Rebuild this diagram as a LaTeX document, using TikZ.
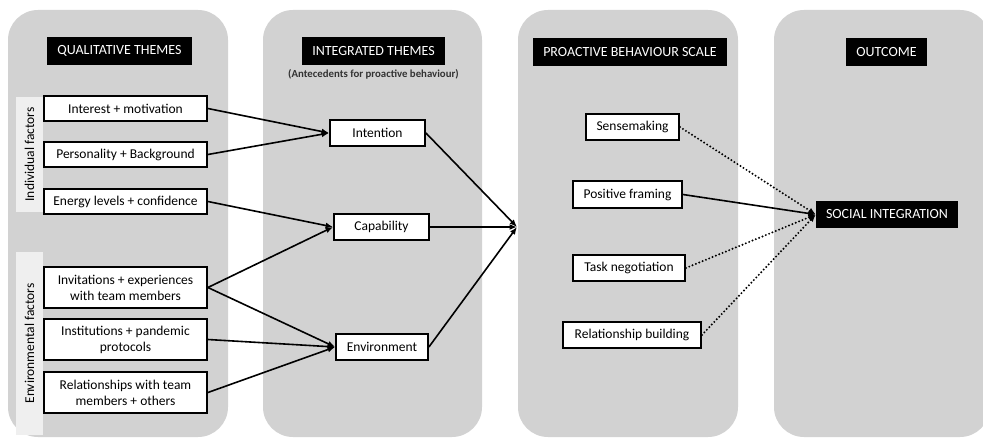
\documentclass[tikz,border=0pt]{standalone}
\usepackage{fontspec}
\setmainfont{Carlito}
\usetikzlibrary{arrows.meta}
\definecolor{panelgray}{HTML}{D2D2D2}
\definecolor{stripgray}{HTML}{EFEFEF}
\begin{document}
\begin{tikzpicture}[x=1pt,y=-1pt,
  panel/.style={fill=panelgray, rounded corners=30pt},
  header/.style={fill=black, text=white, font=\fontsize{14}{16}\selectfont, inner sep=0pt, minimum height=28},
  item/.style={draw=black, line width=1.8pt, fill=white, align=center, inner sep=0pt,
               font=\fontsize{13.5}{16}\selectfont},
  strip/.style={fill=stripgray},
  conn/.style={line width=1.6pt, -{Latex[length=7.5pt,width=6pt]}},
  dotconn/.style={line width=2.2pt, line cap=round, dash pattern=on 0pt off 3.6pt,
                  -{Latex[length=7.5pt,width=6pt,line cap=butt]}}]
\useasboundingbox (0,0) rectangle (983,441);
\fill[white] (0,0) rectangle (983,441);

% column panels
\fill[panel] (8,10) rectangle (228,437);
\fill[panel] (263,10) rectangle (482,437);
\fill[panel] (518,10) rectangle (738,437);
\fill[panel] (774,10) rectangle (990,437);

% column headers
\node[header, minimum width=145] (hq) at (119.5,51) {QUALITATIVE THEMES};
\node[header, minimum width=143] (hi) at (373.5,51) {INTEGRATED THEMES};
\node[font=\fontsize{10.8}{12}\selectfont\bfseries, text=black!80] (ant) at (373.5,74) {(Antecedents for proactive behaviour)};
\node[header, minimum width=194] (hp) at (630,52) {PROACTIVE BEHAVIOUR SCALE};
\node[header, minimum width=81] (ho) at (886.5,52) {OUTCOME};

% factor strips with rotated labels
\fill[strip] (16,97) rectangle (43,212);
\node[rotate=90, font=\fontsize{13.5}{16}\selectfont] (indf) at (29.5,154.5) {Individual factors};
\fill[strip] (16,252) rectangle (43,435);
\node[rotate=90, font=\fontsize{13.5}{16}\selectfont] (envf) at (29.5,343.5) {Environmental factors};

% qualitative themes
\node[item, minimum width=163, minimum height=25] (interest) at (125.5,108.5) {Interest + motivation};
\node[item, minimum width=163, minimum height=25] (person) at (125.5,154.5) {Personality + Background};
\node[item, minimum width=163, minimum height=25] (energy) at (125.5,201.5) {Energy levels + confidence};
\node[item, minimum width=163, minimum height=41] (invit) at (125.5,287.5) {Invitations + experiences\\with team members};
\node[item, minimum width=163, minimum height=41] (instit) at (125.5,339.5) {Institutions + pandemic\\protocols};
\node[item, minimum width=163, minimum height=41] (relat) at (125.5,392.5) {Relationships with team\\members + others};

% integrated themes
\node[item, minimum width=95, minimum height=26] (intention) at (377.5,133) {Intention};
\node[item, minimum width=95, minimum height=26] (capab) at (381.5,227) {Capability};
\node[item, minimum width=92, minimum height=26] (environ) at (382,347) {Environment};
\coordinate (j) at (517,227);

% proactive behaviour scale
\node[item, minimum width=93, minimum height=26] (sense) at (632.5,127) {Sensemaking};
\node[item, minimum width=109, minimum height=27] (posit) at (627.5,194.5) {Positive framing};
\node[item, minimum width=112, minimum height=26] (task) at (629,268) {Task negotiation};
\node[item, minimum width=138, minimum height=26] (relb) at (632,335) {Relationship building};

% outcome
\node[header, minimum width=142, minimum height=27] (social) at (887,214.5) {SOCIAL INTEGRATION};

% connectors
\draw[conn] (interest.east) -- (intention.west);
\draw[conn] (person.east) -- (intention.west);
\draw[conn] (energy.east) -- (capab.west);
\draw[conn] (invit.east) -- (capab.west);
\draw[conn] (invit.east) -- (environ.west);
\draw[conn] (instit.east) -- (environ.west);
\draw[conn] (relat.east) -- (environ.west);

\draw[conn] (intention.east) -- (j);
\draw[conn] (capab.east) -- (j);
\draw[conn] (environ.east) -- (j);

\draw[dotconn] (sense.east) -- (social.west);
\draw[conn] (posit.east) -- (social.west);
\draw[dotconn] (task.east) -- (social.west);
\draw[dotconn] (relb.east) -- (social.west);
\end{tikzpicture}
\end{document}
